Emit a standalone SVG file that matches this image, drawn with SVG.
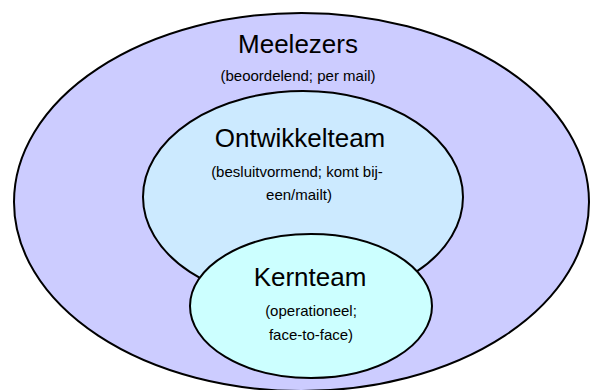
<svg xmlns="http://www.w3.org/2000/svg" width="591" height="390" viewBox="0 0 591 390">
  <style>
    .ring { stroke: #000; stroke-width: 2; }
    .title { font-family: "Liberation Sans", Arial, sans-serif; font-size: 26px; fill: #000; text-anchor: middle; }
    .sub { font-family: "Liberation Sans", Arial, sans-serif; font-size: 15px; fill: #000; text-anchor: middle; }
  </style>
  <rect width="591" height="390" fill="#fff"/>
  <g id="meelezers">
    <ellipse class="ring" cx="301.5" cy="202" rx="287.5" ry="189" fill="#ccccff"/>
    <text class="title" x="298" y="53">Meelezers</text>
    <text class="sub" x="298" y="81">(beoordelend; per mail)</text>
  </g>
  <g id="ontwikkelteam">
    <ellipse class="ring" cx="303" cy="197" rx="160" ry="106" fill="#cceaff"/>
    <text class="title" x="300" y="147">Ontwikkelteam</text>
    <text class="sub" x="297" y="177">(besluitvormend; komt bij-</text>
    <text class="sub" x="299" y="200">een/mailt)</text>
  </g>
  <g id="kernteam">
    <ellipse class="ring" cx="311" cy="306" rx="121" ry="72" fill="#ccffff"/>
    <text class="title" x="310" y="286">Kernteam</text>
    <text class="sub" x="311" y="316">(operationeel;</text>
    <text class="sub" x="311" y="340">face-to-face)</text>
  </g>
  <g id="connectors"/>
</svg>
